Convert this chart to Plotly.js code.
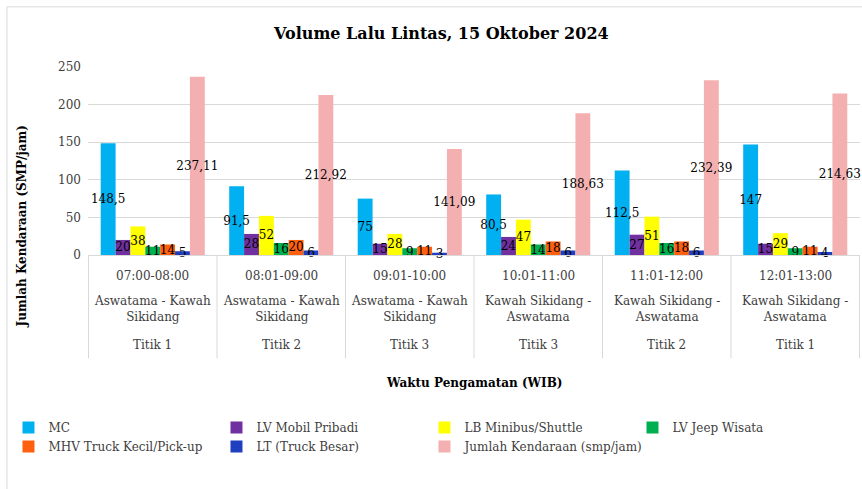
<!DOCTYPE html>
<html>
<head>
<meta charset="utf-8">
<script src="https://cdn.plot.ly/plotly-3.0.1.min.js"></script>
<style>html,body{margin:0;padding:0;background:#fff;}#chart{width:862px;height:489px;}</style>
</head>
<body>
<div id="chart"></div>
<script>
var categories = ["c1", "c2", "c3", "c4", "c5", "c6"];
var times = ["07:00-08:00", "08:01-09:00", "09:01-10:00", "10:01-11:00", "11:01-12:00", "12:01-13:00"];
var routes = ["Aswatama - Kawah Sikidang", "Aswatama - Kawah Sikidang", "Aswatama - Kawah Sikidang",
              "Kawah Sikidang - Aswatama", "Kawah Sikidang - Aswatama", "Kawah Sikidang - Aswatama"];
var points = ["Titik 1", "Titik 2", "Titik 3", "Titik 3", "Titik 2", "Titik 1"];

var seriesNames = ["MC", "LV Mobil Pribadi", "LB Minibus/Shuttle", "LV Jeep Wisata",
                   "MHV Truck Kecil/Pick-up", "LT (Truck Besar)", "Jumlah Kendaraan (smp/jam)"];
var mc      = [148.5, 91.5, 75, 80.5, 112.5, 147];
var lvMobil = [20, 28, 15, 24, 27, 15];
var lbBus   = [38, 52, 28, 47, 51, 29];
var lvJeep  = [11, 16, 9, 14, 16, 9];
var mhv     = [14, 20, 11, 18, 18, 11];
var lt      = [5, 6, 3, 6, 6, 4];
var jumlah  = [237.11, 212.92, 141.09, 188.63, 232.39, 214.63];
var seriesValues = [mc, lvMobil, lbBus, lvJeep, mhv, lt, jumlah];
var colors = ["#00B0F0", "#7030A0", "#FFFF00", "#00B050", "#FF6010", "#1F3FC0", "#F4B0B0"];

var FONT = "DejaVu Serif";
function fmt(v) { return String(v).replace(".", ","); }

var traces = seriesValues.map(function (vals, i) {
  return {
    type: "bar",
    name: seriesNames[i],
    x: categories,
    y: vals,
    marker: {color: colors[i]},
    text: vals.map(fmt),
    textposition: "inside",
    insidetextanchor: "middle",
    constraintext: "none",
    textangle: 0,
    cliponaxis: false,
    textfont: {family: FONT, size: 12, color: "#000"},
    hoverinfo: "x+y+name"
  };
});

function wrapRoute(r) {
  var k = r.lastIndexOf(" ");
  return r.slice(0, k) + "<br>" + r.slice(k + 1);
}

var annotations = [];
var shapes = [];
categories.forEach(function (c, i) {
  annotations.push({xref: "x", yref: "paper", x: c, y: -0.11, text: times[i], showarrow: false,
    yanchor: "middle", font: {family: FONT, size: 12, color: "#404040"}});
  annotations.push({xref: "x", yref: "paper", x: c, y: -0.285, text: wrapRoute(routes[i]), showarrow: false,
    yanchor: "middle", font: {family: FONT, size: 12, color: "#404040"}});
  annotations.push({xref: "x", yref: "paper", x: c, y: -0.48, text: points[i], showarrow: false,
    yanchor: "middle", font: {family: FONT, size: 12, color: "#404040"}});
});
for (var j = 0; j <= categories.length; j++) {
  shapes.push({type: "line", xref: "x", yref: "paper", x0: j - 0.5, x1: j - 0.5, y0: 0, y1: -0.55,
    line: {color: "#d9d9d9", width: 1}});
}
shapes.push({type: "rect", xref: "paper", yref: "paper", x0: -0.105, x1: 1.05, y0: -1.4, y1: 1.32,
  line: {color: "#d9d9d9", width: 1}, layer: "below"});

annotations.push({xref: "paper", yref: "paper", x: 0.5, y: -0.68, yanchor: "middle",
  text: "<b>Waktu Pengamatan (WIB)</b>",
  showarrow: false, font: {family: FONT, size: 12, color: "#000"}});
annotations.push({xref: "paper", yref: "paper", x: -0.085, xanchor: "center", y: 0.5 - (226 - 161) / 188,
  yanchor: "middle",
  text: "<b>Jumlah Kendaraan (SMP/jam)</b>", textangle: -90, showarrow: false,
  font: {family: FONT, size: 12, color: "#000"}});

var layout = {
  width: 862, height: 489,
  margin: {l: 88, r: 2, t: 67, b: 234},
  paper_bgcolor: "#fff", plot_bgcolor: "#fff",
  title: {text: "<b>Volume Lalu Lintas, 15 Oktober 2024</b>", x: 0.512, xanchor: "center", y: 0.932, yanchor: "middle",
    font: {family: FONT, size: 16, color: "#000"}},
  barmode: "group", bargap: 0.19, bargroupgap: 0,
  showlegend: true,
  legend: {orientation: "h", x: -0.103, xanchor: "left", y: -0.84, yanchor: "top",
    font: {family: FONT, size: 12, color: "#404040"}, entrywidth: 163, tracegroupgap: 0,
    traceorder: "normal", itemclick: false},
  xaxis: {type: "category", showticklabels: false, showgrid: false, showline: true,
    linecolor: "#d9d9d9", linewidth: 1, ticks: "", fixedrange: true},
  yaxis: {range: [0, 250], dtick: 50, tick0: 0, gridcolor: "#d9d9d9", gridwidth: 1, zeroline: false,
    showline: false, ticks: "", ticklabelstandoff: 6,
    tickfont: {family: FONT, size: 12, color: "#404040"}, fixedrange: true},
  annotations: annotations,
  shapes: shapes
};

Plotly.newPlot("chart", traces, layout, {displayModeBar: false, staticPlot: true});
</script>
</body>
</html>
